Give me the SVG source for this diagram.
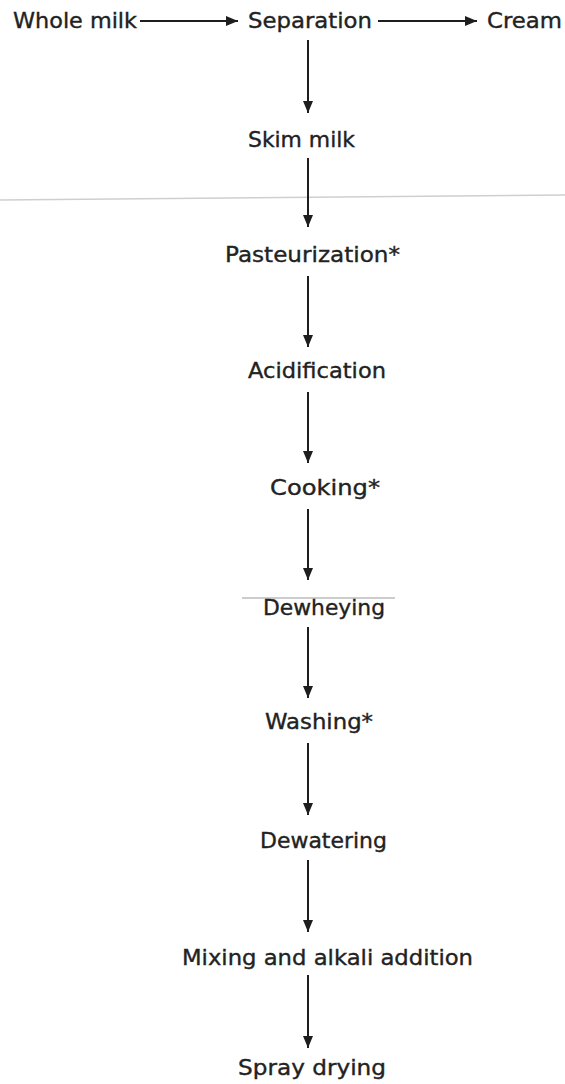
<svg xmlns="http://www.w3.org/2000/svg" width="565" height="1084" viewBox="0 0 565 1084">
<style>
.lbl{font-family:"DejaVu Sans","Liberation Sans",sans-serif;font-size:20.5px;fill:#222222;stroke:#222222;stroke-width:0.35;}
.con{stroke:#1e1e1e;stroke-width:2;fill:none;marker-end:url(#ah);}
.scan{stroke:#cfcfcf;stroke-width:1.5;fill:none;}
</style>
<defs>
<marker id="ah" markerUnits="userSpaceOnUse" markerWidth="14" markerHeight="11" refX="12" refY="5" orient="auto">
<path d="M0,0 L12,5 L0,10 z" fill="#1e1e1e"/>
</marker>
</defs>
<rect width="565" height="1084" fill="#ffffff"/>
<line class="scan" x1="0" y1="200" x2="565" y2="195"/>
<line x1="242" y1="598" x2="395" y2="598" stroke="#9a9a9a" stroke-width="1"/>
<g id="connectors">
<line class="con" x1="140" y1="21" x2="238" y2="21"/>
<line class="con" x1="378" y1="21" x2="477" y2="21"/>
<line class="con" x1="308" y1="40" x2="308" y2="113"/>
<line class="con" x1="308" y1="158" x2="308" y2="227"/>
<line class="con" x1="308" y1="276" x2="308" y2="347"/>
<line class="con" x1="308" y1="392" x2="308" y2="463"/>
<line class="con" x1="308" y1="509" x2="308" y2="580"/>
<line class="con" x1="308" y1="627" x2="308" y2="698"/>
<line class="con" x1="308" y1="743" x2="308" y2="815"/>
<line class="con" x1="308" y1="860" x2="308" y2="932"/>
<line class="con" x1="308" y1="975" x2="308" y2="1048"/>
</g>
<g id="whole-milk"><text class="lbl" x="13" y="28" textLength="124" lengthAdjust="spacingAndGlyphs">Whole milk</text></g>
<g id="separation"><text class="lbl" x="248" y="28" textLength="124" lengthAdjust="spacingAndGlyphs">Separation</text></g>
<g id="cream"><text class="lbl" x="487" y="28" textLength="75" lengthAdjust="spacingAndGlyphs">Cream</text></g>
<g id="skim-milk"><text class="lbl" x="248" y="147" textLength="107" lengthAdjust="spacingAndGlyphs">Skim milk</text></g>
<g id="pasteurization"><text class="lbl" x="225" y="262" textLength="175" lengthAdjust="spacingAndGlyphs">Pasteurization*</text></g>
<g id="acidification"><text class="lbl" x="248" y="378" textLength="138" lengthAdjust="spacingAndGlyphs">Acidification</text></g>
<g id="cooking"><text class="lbl" x="270" y="495" textLength="110" lengthAdjust="spacingAndGlyphs">Cooking*</text></g>
<g id="dewheying"><text class="lbl" x="263" y="615" textLength="122" lengthAdjust="spacingAndGlyphs">Dewheying</text></g>
<g id="washing"><text class="lbl" x="265" y="729" textLength="108" lengthAdjust="spacingAndGlyphs">Washing*</text></g>
<g id="dewatering"><text class="lbl" x="260" y="848" textLength="127" lengthAdjust="spacingAndGlyphs">Dewatering</text></g>
<g id="mixing"><text class="lbl" x="182" y="965" textLength="291" lengthAdjust="spacingAndGlyphs">Mixing and alkali addition</text></g>
<g id="spray-drying"><text class="lbl" x="238" y="1075" textLength="148" lengthAdjust="spacingAndGlyphs">Spray drying</text></g>
</svg>
